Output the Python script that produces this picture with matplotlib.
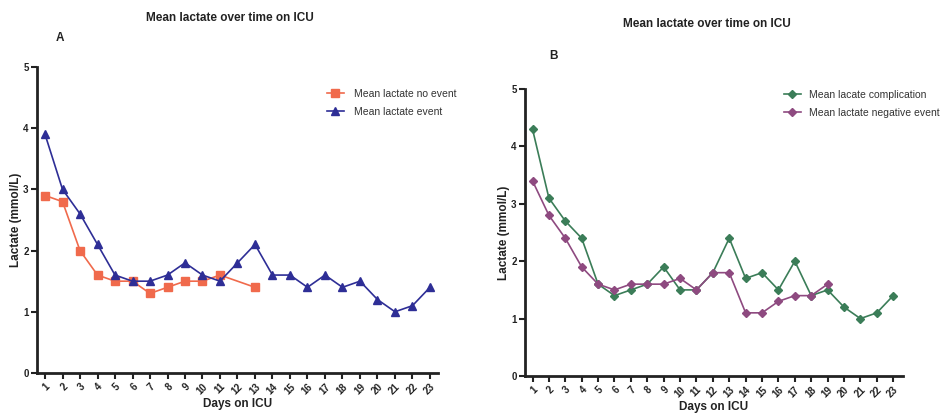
import matplotlib
matplotlib.use("Agg")
import matplotlib.pyplot as plt
import numpy as np

plt.rcParams['font.family'] = ['Liberation Sans', 'DejaVu Sans']

# Panel A data
days_a_no = [1, 2, 3, 4, 5, 6, 7, 8, 9, 10, 11, 13]
no_event = [2.9, 2.8, 2.0, 1.6, 1.5, 1.5, 1.3, 1.4, 1.5, 1.5, 1.6, 1.4]
days_a_ev = list(range(1, 24))
event = [3.9, 3.0, 2.6, 2.1, 1.6, 1.5, 1.5, 1.6, 1.8, 1.6, 1.5, 1.8, 2.1,
         1.6, 1.6, 1.4, 1.6, 1.4, 1.5, 1.2, 1.0, 1.1, 1.4]

# Panel B data
days_b_comp = list(range(1, 24))
complication = [4.3, 3.1, 2.7, 2.4, 1.6, 1.4, 1.5, 1.6, 1.9, 1.5, 1.5, 1.8, 2.4,
                 1.7, 1.8, 1.5, 2.0, 1.4, 1.5, 1.2, 1.0, 1.1, 1.4]
days_b_neg = list(range(1, 20))
negative = [3.4, 2.8, 2.4, 1.9, 1.6, 1.5, 1.6, 1.6, 1.6, 1.7, 1.5, 1.8, 1.8,
            1.1, 1.1, 1.3, 1.4, 1.4, 1.6]

day_ticks = list(range(1, 24))
title = "Mean lactate over time on ICU"

fig = plt.figure(figsize=(9.43, 4.16), dpi=100)
ax_a = fig.add_axes([0.0392, 0.1034, 0.4253, 0.7356])
ax_b = fig.add_axes([0.5567, 0.0962, 0.4009, 0.6898])


def style_axis(ax, xmax_pad):
    ax.set_xlim(0.54, 23 + xmax_pad)
    ax.set_ylim(0, 5)
    ax.set_yticks([0, 1, 2, 3, 4, 5])
    ax.set_xticks(day_ticks)
    ax.set_xticklabels([str(d) for d in day_ticks], rotation=45,
                       ha='right', va='top', rotation_mode='anchor',
                       fontsize=7, fontweight='bold', color='#222222')
    for lab in ax.get_yticklabels():
        lab.set_fontsize(7)
        lab.set_fontweight('bold')
        lab.set_color('#222222')
    for s in ['top', 'right']:
        ax.spines[s].set_visible(False)
    for s in ['left', 'bottom']:
        ax.spines[s].set_linewidth(2)
        ax.spines[s].set_color('#222222')
    ax.tick_params(axis='both', width=1.5, length=4, color='#222222', pad=2)
    ax.set_xlabel("Days on ICU", fontsize=8.5, fontweight='bold', color='#222222', labelpad=1)
    ax.set_ylabel("Lactate (mmol/L)", fontsize=8.5, fontweight='bold', color='#222222', labelpad=1)


ax_a.plot(days_a_no, no_event, color='#F06A4C', marker='s', markersize=5.5,
          linewidth=1.2, label='Mean lactate no event')
ax_a.plot(days_a_ev, event, color='#2E2E96', marker='^', markersize=5.5,
          linewidth=1.2, label='Mean lactate event')
style_axis(ax_a, 0.46)
ax_a.legend(loc='upper left', bbox_to_anchor=(0.7, 0.96), frameon=False,
            fontsize=7.5, handlelength=1.6, handletextpad=1.0, labelspacing=0.8,
            labelcolor='#333333')

ax_b.plot(days_b_comp, complication, color='#3B7D58', marker='D', markersize=4.5,
          linewidth=1.2, label='Mean lacate complication')
ax_b.plot(days_b_neg, negative, color='#8E4A80', marker='D', markersize=4.5,
          linewidth=1.2, label='Mean lactate negative event')
style_axis(ax_b, 0.6)
ax_b.legend(loc='upper left', bbox_to_anchor=(0.66, 1.03), frameon=False,
            fontsize=7.5, handlelength=1.6, handletextpad=0.8, labelspacing=0.8,
            labelcolor='#333333')

fig.text(230 / 943, 1 - 18 / 416, title, ha='center', va='center',
         fontsize=8.5, fontweight='bold', color='#222222')
fig.text(60 / 943, 1 - 38 / 416, "A", ha='center', va='center',
         fontsize=8.5, fontweight='bold', color='#222222')
fig.text(707 / 943, 1 - 24 / 416, title, ha='center', va='center',
         fontsize=8.5, fontweight='bold', color='#222222')
fig.text(553 / 943, 1 - 56 / 416, "B", ha='center', va='center',
         fontsize=8.5, fontweight='bold', color='#222222')

fig.savefig("out.png", dpi=100)
